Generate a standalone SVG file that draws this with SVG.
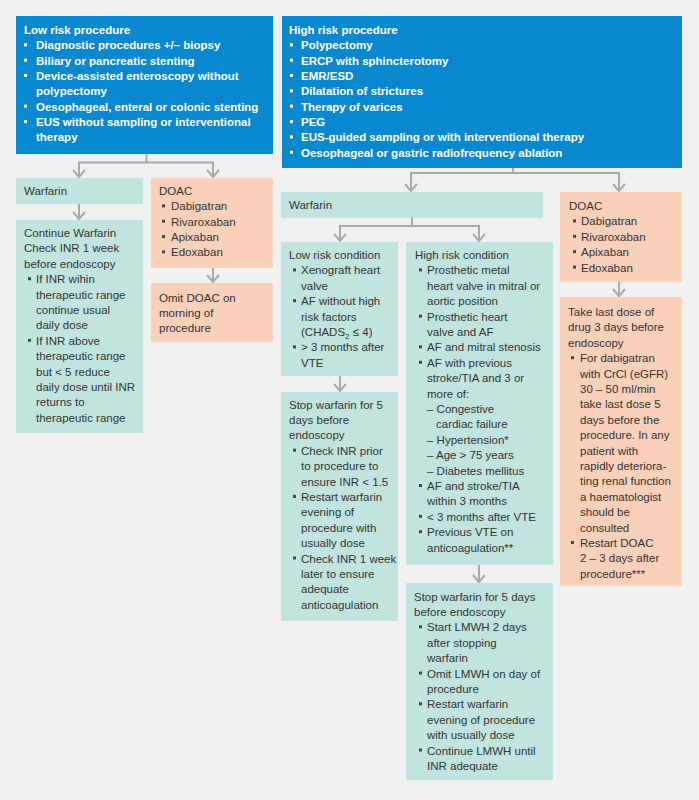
<svg xmlns="http://www.w3.org/2000/svg" width="699" height="800" viewBox="0 0 699 800">
<defs>
<style>
.blue{fill:#0a88cf}
.teal{fill:#c2e4de}
.salmon{fill:#f9d0ba}
.tb{font-family:"Liberation Sans",Arial,sans-serif;font-weight:bold;font-size:11.5px;fill:#ffffff}
.t{font-family:"Liberation Sans",Arial,sans-serif;font-size:11.5px;fill:#333333}
.bw{fill:#ffffff}
.bd{fill:#444444}
.conn{fill:none;stroke:#a9a9a9;stroke-width:2}
</style>
<marker id="arr" viewBox="0 0 10 14" refX="8.5" refY="7" markerWidth="10" markerHeight="14" markerUnits="userSpaceOnUse" orient="auto">
<path d="M1.5,1 L8.5,7 L1.5,13" fill="none" stroke="#a9a9a9" stroke-width="2"/>
</marker>
</defs>
<rect x="0" y="0" width="699" height="800" fill="#eff1f1"/>

<g id="connectors" class="conn">
<path d="M146.5,154 V162.5 H79 V177" marker-end="url(#arr)"/>
<path d="M146.5,162.5 H213 V177" marker-end="url(#arr)"/>
<path d="M79,204 V219" marker-end="url(#arr)"/>
<path d="M213,268 V282" marker-end="url(#arr)"/>
<path d="M513,168 V173 H411 V191" marker-end="url(#arr)"/>
<path d="M513,173 H619 V191" marker-end="url(#arr)"/>
<path d="M412,218 V226 H340 V241" marker-end="url(#arr)"/>
<path d="M412,226 H479 V241" marker-end="url(#arr)"/>
<path d="M619,282 V296" marker-end="url(#arr)"/>
<path d="M340,376 V391" marker-end="url(#arr)"/>
<path d="M479,565 V582" marker-end="url(#arr)"/>
</g>

<g id="low-risk-procedure">
<rect class="blue" x="16" y="16" width="257" height="138"/>
<text class="tb">
<tspan x="24" y="34">Low risk procedure</tspan>
<tspan x="36" y="49.3">Diagnostic procedures +/– biopsy</tspan>
<tspan x="36" y="64.7">Biliary or pancreatic stenting</tspan>
<tspan x="36" y="80">Device-assisted enteroscopy without</tspan>
<tspan x="36" y="95.4">polypectomy</tspan>
<tspan x="36" y="110.7">Oesophageal, enteral or colonic stenting</tspan>
<tspan x="36" y="126.1">EUS without sampling or interventional</tspan>
<tspan x="36" y="141.4">therapy</tspan>
</text>
<g class="bw">
<rect x="24" y="43.3" width="3" height="3"/>
<rect x="24" y="58.7" width="3" height="3"/>
<rect x="24" y="74" width="3" height="3"/>
<rect x="24" y="104.7" width="3" height="3"/>
<rect x="24" y="120.1" width="3" height="3"/>
</g>
</g>

<g id="high-risk-procedure">
<rect class="blue" x="282" y="16" width="400" height="152"/>
<text class="tb">
<tspan x="289" y="34">High risk procedure</tspan>
<tspan x="301" y="49.3">Polypectomy</tspan>
<tspan x="301" y="64.7">ERCP with sphincterotomy</tspan>
<tspan x="301" y="80">EMR/ESD</tspan>
<tspan x="301" y="95.4">Dilatation of strictures</tspan>
<tspan x="301" y="110.7">Therapy of varices</tspan>
<tspan x="301" y="126.1">PEG</tspan>
<tspan x="301" y="141.4">EUS-guided sampling or with interventional therapy</tspan>
<tspan x="301" y="156.8">Oesophageal or gastric radiofrequency ablation</tspan>
</text>
<g class="bw">
<rect x="290" y="43.3" width="3" height="3"/>
<rect x="290" y="58.7" width="3" height="3"/>
<rect x="290" y="74" width="3" height="3"/>
<rect x="290" y="89.4" width="3" height="3"/>
<rect x="290" y="104.7" width="3" height="3"/>
<rect x="290" y="120.1" width="3" height="3"/>
<rect x="290" y="135.4" width="3" height="3"/>
<rect x="290" y="150.8" width="3" height="3"/>
</g>
</g>

<g id="warfarin-low">
<rect class="teal" x="16" y="178" width="127" height="26"/>
<text class="t" x="24" y="195">Warfarin</text>
</g>

<g id="doac-low">
<rect class="salmon" x="151" y="178" width="122" height="90"/>
<text class="t">
<tspan x="159" y="195">DOAC</tspan>
<tspan x="171" y="210.4">Dabigatran</tspan>
<tspan x="171" y="225.7">Rivaroxaban</tspan>
<tspan x="171" y="241.1">Apixaban</tspan>
<tspan x="171" y="256.4">Edoxaban</tspan>
</text>
<g class="bd">
<rect x="162" y="204.4" width="3" height="3"/>
<rect x="162" y="219.7" width="3" height="3"/>
<rect x="162" y="235.1" width="3" height="3"/>
<rect x="162" y="250.4" width="3" height="3"/>
</g>
</g>

<g id="continue-warfarin">
<rect class="teal" x="16" y="220" width="127" height="213"/>
<text class="t">
<tspan x="24" y="237">Continue Warfarin</tspan>
<tspan x="24" y="252.4">Check INR 1 week</tspan>
<tspan x="24" y="267.8">before endoscopy</tspan>
<tspan x="36" y="283.2">If  INR wihin</tspan>
<tspan x="36" y="298.6">therapeutic range</tspan>
<tspan x="36" y="314">continue usual</tspan>
<tspan x="36" y="329.4">daily dose</tspan>
<tspan x="36" y="344.8">If INR above</tspan>
<tspan x="36" y="360.2">therapeutic range</tspan>
<tspan x="36" y="375.6">but &lt; 5 reduce</tspan>
<tspan x="36" y="391">daily dose until INR</tspan>
<tspan x="36" y="406.4">returns to</tspan>
<tspan x="36" y="421.8">therapeutic range</tspan>
</text>
<g class="bd">
<rect x="28" y="277.2" width="3" height="3"/>
<rect x="28" y="338.8" width="3" height="3"/>
</g>
</g>

<g id="omit-doac">
<rect class="salmon" x="151" y="283" width="122" height="59"/>
<text class="t">
<tspan x="159" y="301.5">Omit DOAC on</tspan>
<tspan x="159" y="316.9">morning of</tspan>
<tspan x="159" y="332.2">procedure</tspan>
</text>
</g>

<g id="warfarin-high">
<rect class="teal" x="281" y="192" width="262" height="26"/>
<text class="t" x="289" y="209">Warfarin</text>
</g>

<g id="doac-high">
<rect class="salmon" x="560" y="192" width="122" height="90"/>
<text class="t">
<tspan x="569" y="210">DOAC</tspan>
<tspan x="581" y="225.4">Dabigatran</tspan>
<tspan x="581" y="240.8">Rivaroxaban</tspan>
<tspan x="581" y="256.2">Apixaban</tspan>
<tspan x="581" y="271.6">Edoxaban</tspan>
</text>
<g class="bd">
<rect x="573" y="219.4" width="3" height="3"/>
<rect x="573" y="234.8" width="3" height="3"/>
<rect x="573" y="250.2" width="3" height="3"/>
<rect x="573" y="265.6" width="3" height="3"/>
</g>
</g>

<g id="take-last-dose">
<rect class="salmon" x="560" y="297" width="122" height="289"/>
<text class="t">
<tspan x="568" y="316">Take last dose of</tspan>
<tspan x="568" y="331.4">drug 3 days before</tspan>
<tspan x="568" y="346.8">endoscopy</tspan>
<tspan x="580" y="362.2">For dabigatran</tspan>
<tspan x="580" y="377.6">with CrCl (eGFR)</tspan>
<tspan x="580" y="393">30 – 50 ml/min</tspan>
<tspan x="580" y="408.4">take last dose 5</tspan>
<tspan x="580" y="423.8">days before the</tspan>
<tspan x="580" y="439.2">procedure. In any</tspan>
<tspan x="580" y="454.6">patient with</tspan>
<tspan x="580" y="470">rapidly deteriora-</tspan>
<tspan x="580" y="485.4">ting renal function</tspan>
<tspan x="580" y="500.8">a haematologist</tspan>
<tspan x="580" y="516.2">should be</tspan>
<tspan x="580" y="531.6">consulted</tspan>
<tspan x="580" y="547">Restart DOAC</tspan>
<tspan x="580" y="562.4">2 – 3 days after</tspan>
<tspan x="580" y="577.8">procedure***</tspan>
</text>
<g class="bd">
<rect x="571" y="356.2" width="3" height="3"/>
<rect x="571" y="541" width="3" height="3"/>
</g>
</g>

<g id="low-risk-condition">
<rect class="teal" x="281" y="242" width="117" height="134"/>
<text class="t">
<tspan x="289" y="259">Low risk condition</tspan>
<tspan x="301" y="274.4">Xenograft heart</tspan>
<tspan x="301" y="289.8">valve</tspan>
<tspan x="301" y="305.2">AF without high</tspan>
<tspan x="301" y="320.6">risk factors</tspan>
<tspan x="301" y="336">(CHADS<tspan font-size="8" dy="3">2</tspan><tspan dy="-3"> ≤ 4)</tspan></tspan>
<tspan x="301" y="351.4">&gt; 3 months after</tspan>
<tspan x="301" y="366.8">VTE</tspan>
</text>
<g class="bd">
<rect x="293" y="268.4" width="3" height="3"/>
<rect x="293" y="299.2" width="3" height="3"/>
<rect x="293" y="345.4" width="3" height="3"/>
</g>
</g>

<g id="high-risk-condition">
<rect class="teal" x="406" y="242" width="147" height="323"/>
<text class="t">
<tspan x="415" y="259">High risk condition</tspan>
<tspan x="427" y="274.4">Prosthetic metal</tspan>
<tspan x="427" y="289.8">heart valve in mitral or</tspan>
<tspan x="427" y="305.2">aortic position</tspan>
<tspan x="427" y="320.6">Prosthetic heart</tspan>
<tspan x="427" y="336">valve and AF</tspan>
<tspan x="427" y="351.4">AF and mitral stenosis</tspan>
<tspan x="427" y="366.8">AF with previous</tspan>
<tspan x="427" y="382.2">stroke/TIA and 3 or</tspan>
<tspan x="427" y="397.6">more of:</tspan>
<tspan x="427" y="413">– Congestive</tspan>
<tspan x="436" y="428.4">cardiac failure</tspan>
<tspan x="427" y="443.8">– Hypertension*</tspan>
<tspan x="427" y="459.2">– Age &gt; 75 years</tspan>
<tspan x="427" y="474.6">– Diabetes mellitus</tspan>
<tspan x="427" y="490">AF and stroke/TIA</tspan>
<tspan x="427" y="505.4">within 3 months</tspan>
<tspan x="427" y="520.8">&lt; 3 months after VTE</tspan>
<tspan x="427" y="536.2">Previous VTE on</tspan>
<tspan x="427" y="551.6">anticoagulation**</tspan>
</text>
<g class="bd">
<rect x="419" y="268.4" width="3" height="3"/>
<rect x="419" y="314.6" width="3" height="3"/>
<rect x="419" y="345.4" width="3" height="3"/>
<rect x="419" y="360.8" width="3" height="3"/>
<rect x="419" y="484" width="3" height="3"/>
<rect x="419" y="514.8" width="3" height="3"/>
<rect x="419" y="530.2" width="3" height="3"/>
</g>
</g>

<g id="stop-warfarin-low">
<rect class="teal" x="281" y="392" width="117" height="229"/>
<text class="t">
<tspan x="289" y="408.5">Stop warfarin for 5</tspan>
<tspan x="289" y="423.9">days before</tspan>
<tspan x="289" y="439.3">endoscopy</tspan>
<tspan x="301" y="454.7">Check INR prior</tspan>
<tspan x="301" y="470.1">to procedure to</tspan>
<tspan x="301" y="485.5">ensure INR &lt; 1.5</tspan>
<tspan x="301" y="500.9">Restart warfarin</tspan>
<tspan x="301" y="516.3">evening of</tspan>
<tspan x="301" y="531.7">procedure with</tspan>
<tspan x="301" y="547.1">usually dose</tspan>
<tspan x="301" y="562.5">Check INR 1 week</tspan>
<tspan x="301" y="577.9">later to ensure</tspan>
<tspan x="301" y="593.3">adequate</tspan>
<tspan x="301" y="608.7">anticoagulation</tspan>
</text>
<g class="bd">
<rect x="293" y="448.7" width="3" height="3"/>
<rect x="293" y="494.9" width="3" height="3"/>
<rect x="293" y="556.5" width="3" height="3"/>
</g>
</g>

<g id="stop-warfarin-high">
<rect class="teal" x="406" y="583" width="147" height="197"/>
<text class="t">
<tspan x="414" y="600.5">Stop warfarin for 5 days</tspan>
<tspan x="414" y="615.9">before endoscopy</tspan>
<tspan x="427" y="631.3">Start LMWH 2 days</tspan>
<tspan x="427" y="646.7">after stopping</tspan>
<tspan x="427" y="662.1">warfarin</tspan>
<tspan x="427" y="677.5">Omit LMWH on day of</tspan>
<tspan x="427" y="692.9">procedure</tspan>
<tspan x="427" y="708.3">Restart warfarin</tspan>
<tspan x="427" y="723.7">evening of procedure</tspan>
<tspan x="427" y="739.1">with usually dose</tspan>
<tspan x="427" y="754.5">Continue LMWH until</tspan>
<tspan x="427" y="769.9">INR adequate</tspan>
</text>
<g class="bd">
<rect x="419" y="625.3" width="3" height="3"/>
<rect x="419" y="671.5" width="3" height="3"/>
<rect x="419" y="702.3" width="3" height="3"/>
<rect x="419" y="748.5" width="3" height="3"/>
</g>
</g>
</svg>
